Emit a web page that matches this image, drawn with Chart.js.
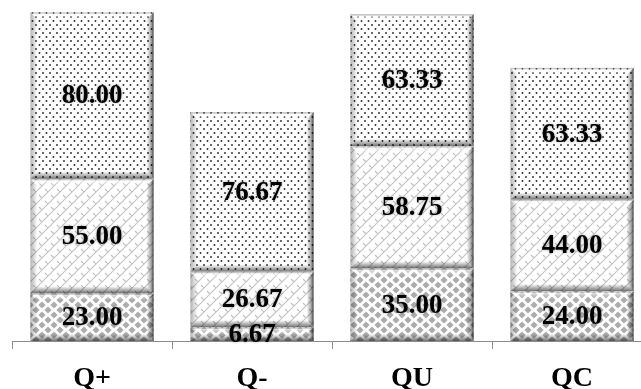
<!DOCTYPE html>
<html>
<head>
<meta charset="utf-8">
<script src="https://cdn.jsdelivr.net/npm/chart.js@4"></script>
<style>
  html, body { margin: 0; padding: 0; background: #fff; overflow: hidden; }
  #wrap { position: absolute; left: 0; top: 0; width: 660px; height: 389px; }
</style>
</head>
<body>
<div id="wrap"><canvas id="chart" width="660" height="389"></canvas></div>
<script>
// Categories and stacked segment values (bottom, middle, top)
const categories = ['Q+', 'Q-', 'QU', 'QC'];
const bottomValues = [23.00, 6.67, 35.00, 24.00];
const middleValues = [55.00, 26.67, 58.75, 44.00];
const topValues = [80.00, 76.67, 63.33, 63.33];

const SERIF = '"Liberation Serif", "Times New Roman", serif';

// Build a repeating fill from a small tile
function makePattern(w, h, draw) {
  const c = document.createElement('canvas');
  c.width = w; c.height = h;
  const g = c.getContext('2d');
  g.fillStyle = '#ffffff';
  g.fillRect(0, 0, w, h);
  draw(g, w, h);
  return g.createPattern(c, 'repeat');
}

// Dotted fill
const dotFill = makePattern(14, 8, g => {
  g.fillStyle = '#2a2a2a';
  [[1, 1], [8, 1], [4.5, 5], [11.5, 5]].forEach(([x, y]) => {
    g.beginPath(); g.arc(x, y, 0.95, 0, Math.PI * 2); g.fill();
  });
});

// Diagonal weave fill
const weaveFill = makePattern(12, 12, g => {
  g.strokeStyle = '#c2c2c2';
  g.lineWidth = 1.1;
  g.beginPath();
  g.moveTo(-1, 13); g.lineTo(13, -1);
  g.moveTo(-1, 1); g.lineTo(1, -1);
  g.moveTo(11, 13); g.lineTo(13, 11);
  g.moveTo(3, 3); g.lineTo(6, 6);
  g.moveTo(9, 9); g.lineTo(12, 12);
  g.stroke();
});

// Diamond fill
const diamondFill = makePattern(12, 10, g => {
  g.fillStyle = '#acacac';
  const diamond = (cx, cy, rx, ry) => {
    g.beginPath();
    g.moveTo(cx, cy - ry); g.lineTo(cx + rx, cy); g.lineTo(cx, cy + ry); g.lineTo(cx - rx, cy);
    g.closePath(); g.fill();
  };
  diamond(6, 5, 3.6, 3.4);
  [[0, 0], [12, 0], [0, 10], [12, 10]].forEach(([x, y]) => diamond(x, y, 3.6, 3.4));
});

// Bevelled edges on every bar segment
const bevelPlugin = {
  id: 'bevel',
  afterDatasetsDraw(chart) {
    const ctx = chart.ctx;
    chart.data.datasets.forEach((ds, i) => {
      const meta = chart.getDatasetMeta(i);
      meta.data.forEach(bar => {
        const p = bar.getProps(['x', 'y', 'base', 'width'], true);
        const l = p.x - p.width / 2, r = p.x + p.width / 2;
        const t = Math.min(p.y, p.base), b = Math.max(p.y, p.base);
        const h = b - t;
        const bw = Math.min(7, h / 2);
        ctx.save();
        // left
        let g = ctx.createLinearGradient(l, 0, l + bw, 0);
        g.addColorStop(0, 'rgba(0,0,0,0.30)');
        g.addColorStop(1, 'rgba(0,0,0,0)');
        ctx.fillStyle = g;
        ctx.beginPath(); ctx.moveTo(l, t); ctx.lineTo(l + bw, t + bw); ctx.lineTo(l + bw, b - bw); ctx.lineTo(l, b); ctx.closePath(); ctx.fill();
        // right
        g = ctx.createLinearGradient(r, 0, r - bw, 0);
        g.addColorStop(0, 'rgba(0,0,0,0.75)');
        g.addColorStop(0.35, 'rgba(0,0,0,0.35)');
        g.addColorStop(1, 'rgba(0,0,0,0)');
        ctx.fillStyle = g;
        ctx.beginPath(); ctx.moveTo(r, t); ctx.lineTo(r - bw, t + bw); ctx.lineTo(r - bw, b - bw); ctx.lineTo(r, b); ctx.closePath(); ctx.fill();
        // bottom
        g = ctx.createLinearGradient(0, b, 0, b - bw);
        g.addColorStop(0, 'rgba(0,0,0,0.55)');
        g.addColorStop(1, 'rgba(0,0,0,0)');
        ctx.fillStyle = g;
        ctx.beginPath(); ctx.moveTo(l, b); ctx.lineTo(l + bw, b - bw); ctx.lineTo(r - bw, b - bw); ctx.lineTo(r, b); ctx.closePath(); ctx.fill();
        // top
        g = ctx.createLinearGradient(0, t, 0, t + bw);
        g.addColorStop(0, 'rgba(0,0,0,0.18)');
        g.addColorStop(0.3, 'rgba(255,255,255,0.6)');
        g.addColorStop(1, 'rgba(255,255,255,0)');
        ctx.fillStyle = g;
        ctx.beginPath(); ctx.moveTo(l, t); ctx.lineTo(l + bw, t + bw); ctx.lineTo(r - bw, t + bw); ctx.lineTo(r, t); ctx.closePath(); ctx.fill();
        ctx.restore();
      });
    });
  }
};

// Value labels centred inside each segment
const valueLabelPlugin = {
  id: 'valueLabels',
  afterDatasetsDraw(chart) {
    const ctx = chart.ctx;
    ctx.save();
    ctx.font = 'bold 27px ' + SERIF;
    ctx.textAlign = 'center';
    ctx.textBaseline = 'middle';
    ctx.fillStyle = '#000';
    ctx.shadowColor = 'rgba(0,0,0,0.35)';
    ctx.shadowBlur = 3;
    chart.data.datasets.forEach((ds, i) => {
      const meta = chart.getDatasetMeta(i);
      meta.data.forEach((bar, j) => {
        const p = bar.getProps(['x', 'y', 'base'], true);
        const cy = (p.y + p.base) / 2;
        ctx.fillText(ds.data[j].toFixed(2), p.x, cy + 1);
      });
    });
    ctx.restore();
  }
};

const seriesStyle = { borderWidth: 0, barPercentage: 0.77, categoryPercentage: 1.0 };

new Chart(document.getElementById('chart'), {
  type: 'bar',
  data: {
    labels: categories,
    datasets: [
      Object.assign({ label: 'bottom', data: bottomValues, backgroundColor: diamondFill }, seriesStyle),
      Object.assign({ label: 'middle', data: middleValues, backgroundColor: weaveFill }, seriesStyle),
      Object.assign({ label: 'top', data: topValues, backgroundColor: dotFill }, seriesStyle)
    ]
  },
  options: {
    responsive: false,
    animation: false,
    devicePixelRatio: 1,
    layout: { padding: { left: 12, right: 8, top: 8, bottom: 0 } },
    plugins: { legend: { display: false }, tooltip: { enabled: false } },
    scales: {
      x: {
        stacked: true,
        grid: { display: true, drawOnChartArea: false, drawTicks: true, tickLength: 8, color: '#8c8c8c', offset: true },
        border: { display: true, color: '#8c8c8c', width: 1 },
        ticks: { color: '#000', font: { family: SERIF, size: 28, weight: 'bold' }, padding: 13 },
        afterFit(scale) { scale.height = 48; }
      },
      y: {
        stacked: true,
        display: false,
        min: 0,
        max: 160
      }
    }
  },
  plugins: [bevelPlugin, valueLabelPlugin]
});
</script>
</body>
</html>
